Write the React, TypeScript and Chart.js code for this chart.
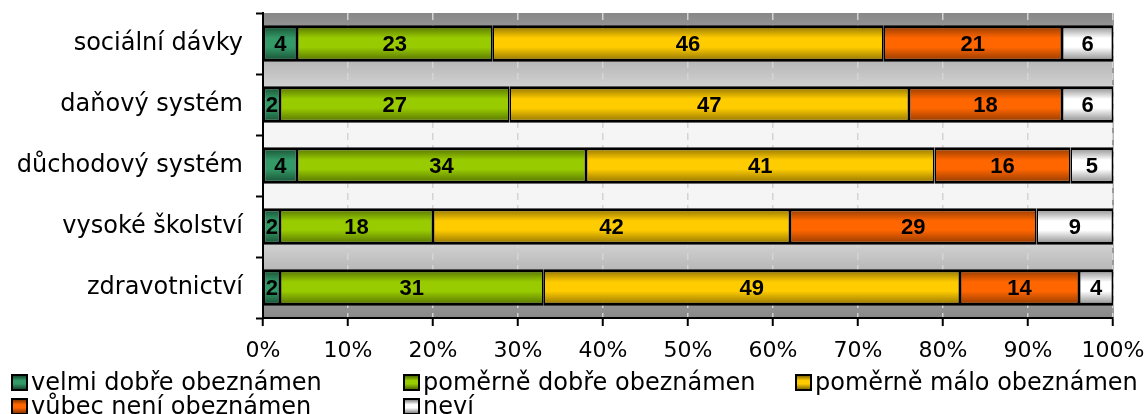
import React, { useEffect, useRef } from 'react';
import { Chart, registerables } from 'chart.js';

Chart.register(...registerables);

const categories = ['sociální dávky', 'daňový systém', 'důchodový systém', 'vysoké školství', 'zdravotnictví'];
const seriesNames = ['velmi dobře obeznámen', 'poměrně dobře obeznámen', 'poměrně málo obeznámen', 'vůbec není obeznámen', 'neví'];
const velmiDobre = [4, 2, 4, 2, 2];
const pomerneDobre = [23, 27, 34, 18, 31];
const pomerneMalo = [46, 47, 41, 42, 49];
const vubecNeni = [21, 18, 16, 29, 14];
const nevi = [6, 6, 5, 9, 4];
const seriesValues = [velmiDobre, pomerneDobre, pomerneMalo, vubecNeni, nevi];
const xMin = 0;
const xMax = 100;
const xStep = 10;

const baseColors = ['#339966', '#99cc00', '#ffcc00', '#ff6600', '#ffffff'];
const edgeColors = ['#154a30', '#516c00', '#8a6d00', '#8a3700', '#858585'];

const BAR_FRACTION = 0.6;

function makeGrad(ctx: CanvasRenderingContext2D, top: number, bottom: number, i: number) {
  const g = ctx.createLinearGradient(0, top, 0, bottom);
  g.addColorStop(0, edgeColors[i]);
  g.addColorStop(0.35, baseColors[i]);
  g.addColorStop(0.6, baseColors[i]);
  g.addColorStop(1, edgeColors[i]);
  return g;
}

const bgFor = (i: number) => (c: any) => {
  const chart = c.chart;
  const y = chart.scales && chart.scales.y;
  if (!chart.chartArea || !y || c.dataIndex === undefined) return baseColors[i];
  const center = y.getPixelForValue(c.dataIndex);
  const half = ((y.height / categories.length) * BAR_FRACTION) / 2;
  return makeGrad(chart.ctx, center - half, center + half, i);
};

const plotBg = {
  id: 'plotBg',
  beforeDraw(chart: any) {
    const { ctx, chartArea: a } = chart;
    if (!a) return;
    ctx.save();
    const g = ctx.createLinearGradient(0, a.top, 0, a.bottom);
    g.addColorStop(0, '#878787');
    g.addColorStop(0.36, '#f5f5f5');
    g.addColorStop(0.64, '#f5f5f5');
    g.addColorStop(1, '#878787');
    ctx.fillStyle = g;
    ctx.fillRect(a.left, a.top, a.right - a.left, a.bottom - a.top);
    ctx.strokeStyle = '#9a9a9a';
    ctx.lineWidth = 2;
    ctx.beginPath();
    ctx.moveTo(a.right, a.top);
    ctx.lineTo(a.right, a.bottom);
    ctx.stroke();
    ctx.restore();
  },
};

const valueLabels = {
  id: 'valueLabels',
  afterDatasetsDraw(chart: any) {
    const { ctx } = chart;
    ctx.save();
    ctx.font = 'bold 22px Arial, "Liberation Sans", Helvetica, sans-serif';
    ctx.fillStyle = '#000';
    ctx.textAlign = 'center';
    ctx.textBaseline = 'middle';
    chart.data.datasets.forEach((ds: any, di: number) => {
      const meta = chart.getDatasetMeta(di);
      meta.data.forEach((el: any, idx: number) => {
        const v = ds.data[idx];
        const cx = (el.x + el.base) / 2;
        ctx.fillText(String(v), cx, el.y + 1);
      });
    });
    ctx.restore();
  },
};

const legendItems = [
  { x: 11, y: 374 },
  { x: 403, y: 374 },
  { x: 795, y: 374 },
  { x: 11, y: 398 },
  { x: 403, y: 398 },
];

const customLegend = {
  id: 'customLegend',
  afterDraw(chart: any) {
    const { ctx } = chart;
    ctx.save();
    ctx.font = '24px "DejaVu Sans", Verdana, sans-serif';
    ctx.textBaseline = 'middle';
    ctx.textAlign = 'left';
    seriesNames.forEach((name, i) => {
      const p = legendItems[i];
      const s = 17;
      ctx.fillStyle = '#000';
      ctx.fillRect(p.x, p.y, s, s);
      ctx.fillStyle = makeGrad(ctx, p.y + 2, p.y + s - 2, i);
      ctx.fillRect(p.x + 2, p.y + 2, s - 4, s - 4);
      ctx.fillStyle = '#000';
      ctx.fillText(name, p.x + 20, p.y + s / 2 + 1);
    });
    ctx.restore();
  },
};

export default function App() {
  const ref = useRef<HTMLCanvasElement | null>(null);

  useEffect(() => {
    if (!ref.current) return;
    Chart.defaults.font.family = '"DejaVu Sans", Verdana, sans-serif';
    Chart.defaults.color = '#000';
    const chart = new Chart(ref.current, {
      type: 'bar',
      data: {
        labels: categories,
        datasets: seriesValues.map((vals, i) => ({
          label: seriesNames[i],
          data: vals,
          backgroundColor: bgFor(i),
          borderColor: '#000',
          borderWidth: { top: 3, bottom: 3, left: 1.5, right: 1.5 },
          borderSkipped: false,
          barPercentage: BAR_FRACTION,
          categoryPercentage: 1,
        })),
      },
      options: {
        indexAxis: 'y',
        responsive: false,
        animation: false,
        devicePixelRatio: 1,
        events: [],
        layout: { padding: { top: 13, right: 34, bottom: 0, left: 0 } },
        plugins: {
          legend: { display: false },
          tooltip: { enabled: false },
          title: { display: false },
        },
        scales: {
          x: {
            stacked: true,
            min: xMin,
            max: xMax,
            afterFit: (s: any) => {
              s.height = 96;
              s.paddingLeft = 0;
              s.paddingRight = 0;
              s.paddingTop = 0;
              s.paddingBottom = 0;
            },
            ticks: {
              stepSize: xStep,
              callback: (v: any) => v + '%',
              font: { size: 22 },
              color: '#000',
              padding: 12,
              maxRotation: 0,
            },
            grid: {
              color: '#d4d4d4',
              lineWidth: 1.5,
              tickColor: '#000',
              tickWidth: 2,
              tickLength: 8,
              tickBorderDash: [],
            },
            border: { display: true, color: '#000', width: 2, dash: [7, 5] },
          },
          y: {
            stacked: true,
            afterFit: (s: any) => {
              s.width = 263;
              s.paddingLeft = 0;
              s.paddingRight = 0;
              s.paddingTop = 0;
              s.paddingBottom = 0;
            },
            ticks: {
              font: { size: 24 },
              color: '#000',
              padding: 13,
            },
            grid: {
              drawOnChartArea: false,
              drawTicks: true,
              tickLength: 7,
              tickColor: '#000',
              tickWidth: 2,
              color: '#000',
            },
            border: { display: true, color: '#000', width: 2 },
          },
        },
      },
      plugins: [plotBg, valueLabels, customLegend],
    });
    return () => chart.destroy();
  }, []);

  return (
    <div style={{ position: 'absolute', left: 0, top: 0, width: 1147, height: 414, background: '#fff' }}>
      <canvas ref={ref} width={1147} height={414} style={{ display: 'block' }} />
    </div>
  );
}
